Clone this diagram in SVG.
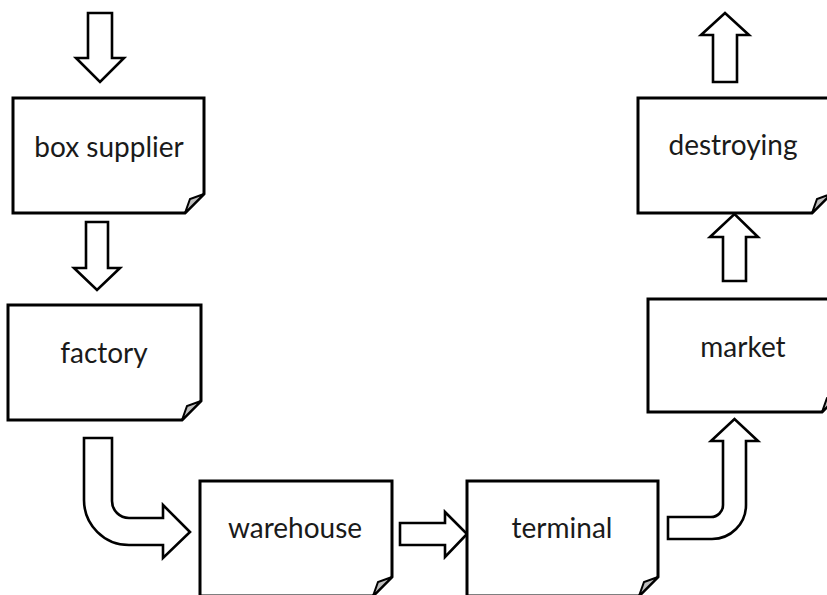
<svg xmlns="http://www.w3.org/2000/svg" width="827" height="595" viewBox="0 0 827 595">
  <style>
    .box { fill: #ffffff; stroke: #000000; stroke-width: 3; stroke-linejoin: miter; }
    .flap { fill: #bfbfbf; stroke: #000000; stroke-width: 2; stroke-linejoin: miter; }
    .arrow { fill: #ffffff; stroke: #000000; stroke-width: 2.6; stroke-linejoin: miter; }
    .label { font-family: Lato, "Liberation Sans", sans-serif; font-size: 28px; fill: #1a1a1a; text-anchor: middle; }
  </style>
  <rect x="0" y="0" width="827" height="595" fill="#ffffff"/>

  <!-- block arrows between the stages -->
  <g id="connectors">
    <path class="arrow" d="M88,13 H112 V58 H124 L100,82 L76,58 H88 Z"/>
    <path class="arrow" d="M86,222 H108 V268 H120 L97,290 L74,268 H86 Z"/>
    <path class="arrow" d="M84,438 H112 V501 A17,17 0 0 0 129,518 H163 V505 L190,532 L163,558 V545 H129 A45,45 0 0 1 84,500 Z"/>
    <path class="arrow" d="M400,523 H445 V512 L467,534 L445,557 V545 H400 Z"/>
    <path class="arrow" d="M668,517 H711 A12,12 0 0 0 723,505 V441 H711 L734.5,419 L758,441 H746 V505 A34,34 0 0 1 712,539 H668 Z"/>
    <path class="arrow" d="M723,281 V237 H710 L734.5,214 L758,237 H746 V281 Z"/>
    <path class="arrow" d="M713,82 V35 H701 L725,13 L749,35 H737 V82 Z"/>
  </g>

  <!-- stage cards with a folded bottom-right corner -->
  <g id="box-supplier">
    <path class="box" d="M13,98 H204 V194 L185,213 H13 Z"/>
    <path class="flap" d="M185,213 L190,199 L204,194 Z"/>
    <text class="label" x="109" y="157">box supplier</text>
  </g>
  <g id="factory">
    <path class="box" d="M8,305 H201 V401 L182,420 H8 Z"/>
    <path class="flap" d="M182,420 L187,406 L201,401 Z"/>
    <text class="label" x="104" y="363">factory</text>
  </g>
  <g id="warehouse">
    <path class="box" d="M200,481 H392 V577 L373,596 H200 Z"/>
    <path class="flap" d="M373,596 L378,582 L392,577 Z"/>
    <text class="label" x="295" y="538">warehouse</text>
  </g>
  <g id="terminal">
    <path class="box" d="M467,481 H658 V577 L639,596 H467 Z"/>
    <path class="flap" d="M639,596 L644,582 L658,577 Z"/>
    <text class="label" x="562" y="538">terminal</text>
  </g>
  <g id="market">
    <path class="box" d="M648,299 H841 V393 L822,412 H648 Z"/>
    <path class="flap" d="M822,412 L827,398 L841,393 Z"/>
    <text class="label" x="743" y="357">market</text>
  </g>
  <g id="destroying">
    <path class="box" d="M638,98 H831 V194 L812,213 H638 Z"/>
    <path class="flap" d="M812,213 L817,199 L831,194 Z"/>
    <text class="label" x="733" y="155">destroying</text>
  </g>
</svg>
